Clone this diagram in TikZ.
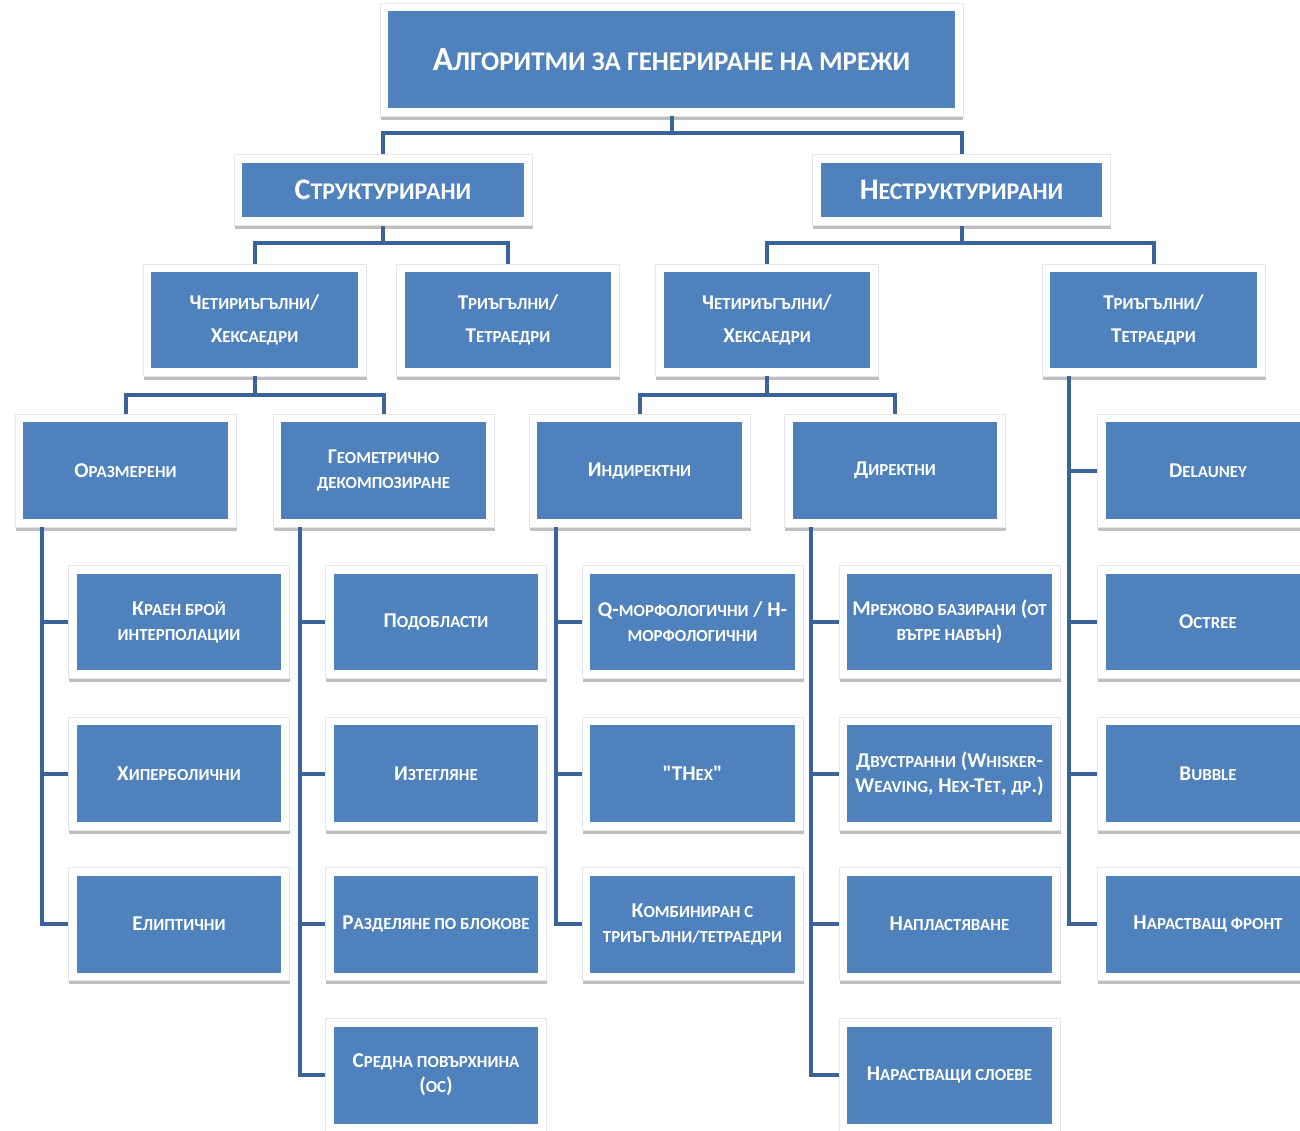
\documentclass[tikz,border=0pt]{standalone}
\usepackage{fontspec}
\setmainfont{Carlito}
\newfontfamily\smallfam[Scale=0.8]{Carlito}
\newfontfamily\qfam[Ligatures=TeXOff]{Carlito}
\usetikzlibrary{shadows,calc}
\definecolor{boxblue}{HTML}{4F81BD}
\definecolor{lineblue}{HTML}{3A629B}
\newcommand\smc[1]{{\smallfam #1}}
\tikzset{
  box/.style={rectangle, fill=white, draw=black!10, line width=0.5pt, text=white,
    align=center, inner sep=0pt,
    drop shadow={shadow xshift=0.3pt, shadow yshift=-2.2pt, opacity=0.25, fill=black},
    path picture={\fill[boxblue] ([shift={(0.16cm,0.16cm)}]path picture bounding box.south west) rectangle ([shift={(-0.16cm,-0.16cm)}]path picture bounding box.north east);}},
  rootbox/.style={box, minimum width=11.66cm, minimum height=2.26cm, font=\bfseries\fontsize{19.2}{23}\selectfont},
  lonebox/.style={box, minimum width=5.96cm, minimum height=1.42cm, font=\bfseries\fontsize{17}{20}\selectfont},
  ltwobox/.style={box, minimum width=4.46cm, minimum height=2.24cm, font=\bfseries\fontsize{12}{18.7}\selectfont},
  leafbox/.style={box, minimum width=4.42cm, minimum height=2.26cm, font=\bfseries\fontsize{12}{14.2}\selectfont},
  conn/.style={draw=lineblue, line width=0.08cm}
}
\begin{document}
\begin{tikzpicture}[x=0.02cm,y=-0.02cm]
\useasboundingbox (0,0) rectangle (1300,1131);
\clip (0,0) rectangle (1300,1131);
\fill[white] (0,0) rectangle (1300,1131);

\coordinate (b0) at (671.5,133);
\coordinate (b1) at (383,243);
\coordinate (b2) at (961.5,243);
\coordinate (b3) at (254.5,395);
\coordinate (b4) at (767,395);

% nodes
\node[rootbox] (root) at (671.5,59.5) {А\smc{ЛГОРИТМИ ЗА ГЕНЕРИРАНЕ НА МРЕЖИ}};
\node[lonebox] (s) at (383,190) {С\smc{ТРУКТУРИРАНИ}};
\node[lonebox] (u) at (961.5,190) {Н\smc{ЕСТРУКТУРИРАНИ}};

\node[ltwobox] (sq) at (254.5,320) {Ч\smc{ЕТИРИЪГЪЛНИ}/\\Х\smc{ЕКСАЕДРИ}};
\node[ltwobox] (st) at (508,320) {Т\smc{РИЪГЪЛНИ}/\\Т\smc{ЕТРАЕДРИ}};
\node[ltwobox] (uq) at (767,320) {Ч\smc{ЕТИРИЪГЪЛНИ}/\\Х\smc{ЕКСАЕДРИ}};
\node[ltwobox] (ut) at (1153.5,320) {Т\smc{РИЪГЪЛНИ}/\\Т\smc{ЕТРАЕДРИ}};

\node[leafbox] (o) at (125.5,470.5) {О\smc{РАЗМЕРЕНИ}};
\node[leafbox] (g) at (383.5,470.5) {Г\smc{ЕОМЕТРИЧНО}\\\smc{ДЕКОМПОЗИРАНЕ}};
\node[leafbox] (ind) at (639.5,470.5) {И\smc{НДИРЕКТНИ}};
\node[leafbox] (dir) at (895,470.5) {Д\smc{ИРЕКТНИ}};

\node[leafbox] (o1) at (179,622) {К\smc{РАЕН БРОЙ}\\\smc{ИНТЕРПОЛАЦИИ}};
\node[leafbox] (o2) at (179,773.5) {Х\smc{ИПЕРБОЛИЧНИ}};
\node[leafbox] (o3) at (179,924) {Е\smc{ЛИПТИЧНИ}};

\node[leafbox] (g1) at (436,622) {П\smc{ОДОБЛАСТИ}};
\node[leafbox] (g2) at (436,773.5) {И\smc{ЗТЕГЛЯНЕ}};
\node[leafbox] (g3) at (436,924) {Р\smc{АЗДЕЛЯНЕ ПО БЛОКОВЕ}};
\node[leafbox] (g4) at (436,1075) {С\smc{РЕДНА ПОВЪРХНИНА}\\(\smc{ОС})};

\node[leafbox] (i1) at (692.5,622) {Q-\smc{МОРФОЛОГИЧНИ} / H-\\\smc{МОРФОЛОГИЧНИ}};
\node[leafbox] (i2) at (692.5,773.5) {{\qfam"}TH\smc{EX}{\qfam"}};
\node[leafbox] (i3) at (692.5,924) {К\smc{ОМБИНИРАН С}\\\smc{ТРИЪГЪЛНИ/ТЕТРАЕДРИ}};

\node[leafbox] (d1) at (949.5,622) {М\smc{РЕЖОВО БАЗИРАНИ} (\smc{ОТ}\\\smc{ВЪТРЕ НАВЪН})};
\node[leafbox] (d2) at (949.5,773.5) {Д\smc{ВУСТРАННИ} (W\smc{HISKER}-\\W\smc{EAVING}, H\smc{EX}-T\smc{ET}, \smc{ДР}.)};
\node[leafbox] (d3) at (949.5,924) {Н\smc{АПЛАСТЯВАНЕ}};
\node[leafbox] (d4) at (949.5,1075) {Н\smc{АРАСТВАЩИ СЛОЕВЕ}};

\node[leafbox] (t1) at (1208,470.5) {D\smc{ELAUNEY}};
\node[leafbox] (t2) at (1208,622) {O\smc{CTREE}};
\node[leafbox] (t3) at (1208,773.5) {B\smc{UBBLE}};
\node[leafbox] (t4) at (1208,924) {Н\smc{АРАСТВАЩ ФРОНТ}};

% tree connectors
\draw[conn] (root.south) -- (b0) -| (s.north);
\draw[conn] (b0) -| (u.north);
\draw[conn] (s.south) -- (b1) -| (sq.north);
\draw[conn] (b1) -| (st.north);
\draw[conn] (u.south) -- (b2) -| (uq.north);
\draw[conn] (b2) -| (ut.north);
\draw[conn] (sq.south) -- (b3) -| (o.north);
\draw[conn] (b3) -| (g.north);
\draw[conn] (uq.south) -- (b4) -| (ind.north);
\draw[conn] (b4) -| (dir.north);

% column spines
\foreach \c in {o1,o2,o3} \draw[conn] ($(o.south west)+(27,0)$) |- (\c.west);
\foreach \c in {g1,g2,g3,g4} \draw[conn] ($(g.south west)+(27,0)$) |- (\c.west);
\foreach \c in {i1,i2,i3} \draw[conn] ($(ind.south west)+(27,0)$) |- (\c.west);
\foreach \c in {d1,d2,d3,d4} \draw[conn] ($(dir.south west)+(27,0)$) |- (\c.west);
\foreach \c in {t1,t2,t3,t4} \draw[conn] ($(ut.south west)+(27,0)$) |- (\c.west);
\end{tikzpicture}
\end{document}
